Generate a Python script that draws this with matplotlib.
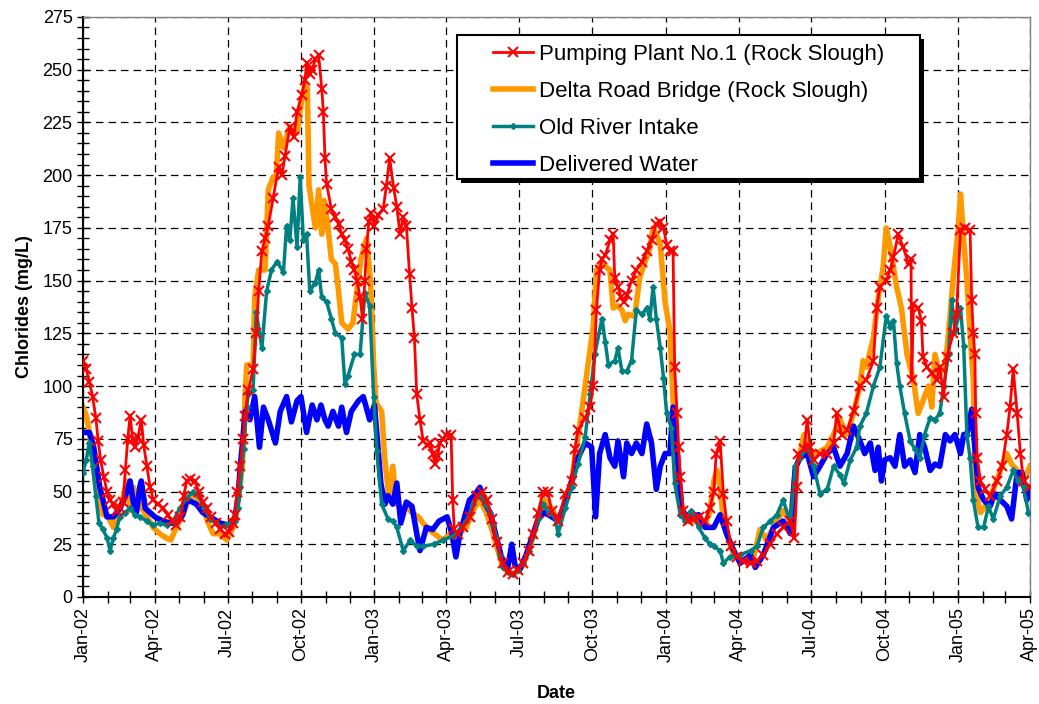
import numpy as np
import matplotlib
matplotlib.use("Agg")
import matplotlib.pyplot as plt
import matplotlib.dates as mdates
from matplotlib.patches import Rectangle

plt.rcParams['font.family'] = ['Liberation Sans', 'DejaVu Sans']

START = np.datetime64('2002-01-01')

# days since 1 Jan 2002 / chloride (mg/L)
pp1_day = [0, 4, 8, 12, 16, 19, 22, 26, 30, 34, 38, 42, 46, 50, 53, 56, 59, 62, 65, 69, 73, 76, 80, 84, 88, 94,
           100, 106, 112, 117, 122, 126, 130, 134, 140, 145, 150, 155, 160, 166, 172, 178, 183, 188, 190, 193, 197,
           200, 203, 207, 213, 217, 220, 224, 228, 232, 238, 245, 249, 253, 259, 264, 268, 274, 278, 280, 284, 287,
           291, 295, 299, 301, 303, 305, 311, 316, 320, 324, 328, 332, 336, 340, 343, 347, 350, 353, 355, 358, 361,
           365, 370, 376, 380, 384, 389, 393, 397, 401, 405, 409, 412, 415, 418, 422, 426, 431, 435, 438, 441, 444,
           447, 451, 455, 461, 463, 465, 470, 476, 485, 493, 500, 506, 512, 518, 526, 532, 539, 545, 551, 558, 564,
           570, 576, 582, 587, 595, 604, 612, 616, 620, 629, 635, 639, 643, 647, 650, 654, 660, 664, 666, 670, 674,
           677, 681, 687, 693, 700, 706, 712, 718, 723, 727, 731, 735, 739, 741, 744, 746, 748, 752, 758, 765, 771,
           779, 785, 790, 793, 798, 802, 806, 812, 819, 827, 836, 844, 852, 861, 869, 877, 886, 891, 894, 896, 903,
           907, 911, 915, 923, 932, 940, 944, 950, 957, 965, 973, 981, 990, 994, 998, 1006, 1011, 1015, 1021, 1027,
           1034, 1037, 1038, 1040, 1046, 1050, 1052, 1057, 1063, 1069, 1073, 1078, 1082, 1090, 1094, 1099, 1105,
           1111, 1113, 1115, 1117, 1118, 1120, 1124, 1130, 1136, 1145, 1151, 1157, 1161, 1165, 1170, 1174, 1178, 1186]
pp1_val = [112, 108, 102, 95, 85, 74, 65, 57, 50, 46, 44, 41, 42, 45, 60, 75, 86, 75, 71, 76, 84, 72, 62, 52, 46, 44,
           42, 39, 36, 34, 38, 48, 55, 56, 55, 50, 45, 42, 38, 35, 32, 30, 31, 35, 39, 50, 62,
           75, 86, 98, 108, 125, 145, 164, 170, 176, 189, 204, 200, 209, 223, 218, 230, 238, 245, 253, 248, 250,
           255, 257, 241, 230, 208, 196, 184, 180, 177, 172, 169, 165, 159, 155, 150, 142, 132, 150, 165, 178, 182,
           176, 181, 184, 195, 208, 194, 185, 172, 180, 176, 153, 137, 123, 96, 84, 74, 72, 73, 68, 63, 67,
           73, 75, 77, 77, 46, 32, 30, 33, 38, 48, 50, 46, 37, 26, 16, 12, 11, 13, 16, 22, 30,
           40, 50, 50, 41, 36, 49, 55, 70, 79, 85, 90, 100, 136, 155, 160, 162, 169, 172, 151, 147, 142,
           140, 143, 150, 155, 159, 164, 169, 177, 178, 175, 167, 164, 164, 109, 87, 71, 57, 41, 36, 37, 38,
           36, 42, 50, 68, 74, 49, 36, 24, 19, 17, 16, 17, 20, 25, 30, 33, 36, 28, 52, 68, 70,
           84, 71, 65, 68, 68, 73, 87, 77, 79, 88, 100, 103, 112, 137, 147, 150, 155, 161, 172, 166,
           158, 160, 103, 139, 137, 131, 114, 109, 106, 103, 109, 95, 114, 125, 134, 174, 175,
           174, 141, 125, 115, 87, 66, 55, 51, 48, 55, 62, 77, 90, 108, 87, 68, 55, 52]

drb_day = [0, 4, 8, 13, 17, 21, 25, 30, 34, 38, 44, 50, 55, 59, 63, 67, 71, 80, 88, 96, 104, 110, 117, 125, 131, 138,
           145, 152, 158, 163, 171, 180, 188, 190, 196, 200, 203, 205, 213, 215, 220, 228, 232, 238, 242, 245, 251,
           259, 268, 274, 278, 281, 283, 287, 291, 295, 299, 302, 306, 311, 316, 320, 324, 332, 338, 343, 348, 355,
           360, 364, 367, 374, 378, 383, 388, 392, 397, 405, 412, 420, 426, 433, 440, 450, 462, 470, 480, 490, 497,
           505, 512, 518, 526, 535, 545, 551, 560, 570, 578, 587, 595, 604, 612, 620, 626, 631, 639, 643, 650, 660,
           664, 670, 675, 679, 683, 691, 697, 703, 709, 714, 718, 723, 729, 735, 739, 744, 750, 758, 771, 779, 785,
           790, 794, 798, 802, 806, 815, 827, 840, 848, 856, 869, 877, 886, 892, 898, 903, 911, 919, 932, 940, 948,
           957, 965, 973, 977, 981, 990, 996, 1002, 1006, 1011, 1019, 1025, 1032, 1040, 1046, 1052, 1059, 1063,
           1067, 1073, 1080, 1086, 1090, 1096, 1099, 1103, 1107, 1111, 1115, 1117, 1120, 1124, 1132, 1140, 1149,
           1157, 1163, 1170, 1178, 1186]
drb_val = [90, 86, 78, 62, 50, 44, 39, 39, 36, 33, 40, 47, 55, 41, 52, 48, 44, 38, 33, 30, 28, 27, 33, 39, 45, 49,
           46, 40, 34, 30, 30, 27, 33, 35, 50, 65, 95, 110, 110, 142, 155, 155, 193, 199, 199, 220, 213,
           223, 220, 236, 243, 241, 195, 185, 175, 193, 172, 188, 178, 160, 158, 145, 130, 127, 130, 145, 160, 170,
           150, 110, 92, 88, 65, 48, 62, 45, 42, 43, 40, 38, 35, 32, 30, 27, 30, 30, 33, 42, 46,
           40, 32, 24, 14, 11, 12, 15, 24, 37, 46, 42, 36, 45, 55, 76, 92, 106, 128, 155, 158, 155,
           137, 138, 136, 131, 134, 133, 151, 158, 164, 175, 172, 167, 140, 126, 93, 65, 39, 36, 36, 35, 40,
           55, 60, 52, 36, 30, 20, 17, 19, 32, 27, 36, 41, 36, 60, 68, 77, 68, 68, 71, 77, 84,
           77, 87, 100, 112, 109, 123, 142, 156, 175, 166, 147, 137, 115, 103, 87, 93, 100, 90,
           115, 106, 109, 134, 152, 174, 191, 169, 150, 125, 103, 65, 46, 40, 44, 51, 60,
           68, 63, 60, 55, 62]

ori_day = [0, 4, 8, 12, 16, 20, 25, 30, 34, 38, 42, 46, 52, 59, 65, 71, 80, 88, 96, 105, 113, 121, 130, 138, 145,
           152, 159, 166, 172, 178, 184, 190, 194, 197, 201, 205, 207, 213, 217, 224, 230, 236, 243, 251, 255, 259,
           263, 268, 272, 276, 280, 284, 291, 295, 299, 305, 311, 316, 324, 328, 332, 340, 347, 353, 359, 364, 368,
           374, 382, 388, 393, 401, 410, 418, 426, 439, 451, 464, 472, 480, 489, 497, 504, 510, 514, 518, 522, 526,
           532, 539, 545, 551, 558, 564, 570, 576, 583, 591, 595, 604, 612, 620, 629, 635, 641, 650, 654, 658, 666,
           670, 675, 681, 687, 693, 700, 706, 710, 714, 718, 723, 727, 731, 737, 741, 748, 754, 762, 771, 779, 785,
           790, 798, 802, 810, 823, 836, 844, 852, 861, 869, 877, 886, 892, 898, 907, 915, 923, 932, 940, 948, 953,
           961, 969, 973, 981, 990, 998, 1006, 1011, 1015, 1019, 1023, 1029, 1036, 1042, 1048, 1054, 1061, 1067,
           1073, 1078, 1084, 1088, 1092, 1099, 1103, 1107, 1111, 1115, 1121, 1128, 1134, 1140, 1149, 1157, 1165,
           1171, 1178, 1184]
ori_val = [59, 65, 73, 62, 48, 35, 32, 28, 22, 28, 32, 38, 40, 42, 39, 38, 36, 34, 35, 34, 36, 42, 47, 50, 48,
           42, 37, 35, 33, 34, 35, 36, 42, 52, 70, 90, 96, 98, 135, 118, 145, 155, 159, 154, 176, 169,
           189, 166, 199, 169, 172, 145, 149, 155, 142, 140, 132, 125, 123, 101, 105, 115, 115, 144, 138, 95, 69,
           44, 37, 36, 33, 22, 27, 24, 24, 25, 27, 29, 32, 36, 44, 49, 44, 40, 34, 28, 20, 14,
           12, 11, 13, 16, 22, 29, 37, 44, 40, 38, 30, 42, 52, 63, 76, 96, 115, 132, 121, 110, 112,
           118, 107, 107, 112, 136, 134, 137, 132, 147, 132, 118, 104, 87, 80, 54, 39, 36, 41, 33, 28, 25,
           24, 22, 16, 19, 20, 22, 24, 33, 36, 39, 46, 35, 62, 66, 71, 62, 49, 51, 62, 58, 54,
           65, 71, 81, 87, 100, 109, 133, 128, 131, 111, 100, 87, 74, 70, 66, 77, 85, 84,
           87, 100, 115, 141, 126, 137, 119, 77, 66, 46, 33, 33, 43, 37, 48, 52, 60,
           55, 52, 40]

del_day = [0, 8, 13, 17, 21, 25, 30, 38, 46, 50, 55, 59, 63, 67, 71, 73, 78, 84, 90, 100, 110, 117, 125, 130, 137,
           142, 150, 159, 172, 184, 190, 194, 197, 200, 203, 209, 215, 221, 226, 232, 241, 247, 255, 261, 268, 273,
           280, 287, 293, 298, 303, 307, 313, 320, 324, 330, 336, 345, 351, 359, 365, 369, 373, 378, 382, 388, 393,
           398, 405, 412, 418, 422, 430, 438, 446, 456, 462, 467, 472, 478, 484, 490, 497, 504, 510, 518, 524, 532,
           537, 541, 547, 555, 562, 570, 578, 587, 595, 604, 612, 620, 629, 637, 642, 647, 654, 660, 666, 670, 677,
           681, 687, 693, 700, 706, 712, 718, 723, 729, 735, 739, 744, 750, 758, 771, 779, 790, 798, 806, 815, 823,
           836, 842, 852, 865, 877, 886, 892, 898, 907, 915, 923, 932, 940, 948, 957, 965, 973, 979, 986, 992, 996,
           1000, 1004, 1011, 1017, 1023, 1029, 1036, 1042, 1048, 1054, 1061, 1067, 1073, 1080, 1086, 1092, 1099,
           1103, 1107, 1113, 1117, 1121, 1128, 1136, 1142, 1149, 1157, 1163, 1170, 1176, 1182, 1186]
del_val = [78, 78, 72, 62, 52, 46, 38, 38, 42, 45, 50, 55, 45, 40, 52, 55, 42, 40, 38, 36, 35, 35, 39, 46, 45,
           44, 40, 38, 35, 34, 37, 47, 62, 74, 88, 84, 95, 71, 90, 84, 73, 88, 95, 83, 93, 95,
           78, 91, 84, 91, 84, 81, 88, 81, 90, 78, 88, 93, 95, 84, 91, 73, 54, 44, 48, 44, 54,
           35, 45, 43, 30, 22, 33, 32, 36, 38, 30, 19, 30, 38, 46, 48, 52, 44, 40, 28, 19, 14,
           25, 15, 13, 20, 28, 37, 40, 38, 36, 45, 55, 66, 73, 71, 38, 68, 77, 66, 62, 74, 57,
           73, 68, 73, 68, 82, 73, 51, 62, 68, 68, 90, 69, 41, 38, 39, 33, 33, 39, 30, 22, 16,
           20, 14, 20, 33, 36, 30, 61, 66, 68, 57, 62, 68, 71, 62, 68, 81, 74, 68, 73, 60, 71,
           55, 65, 66, 62, 77, 62, 65, 59, 77, 71, 60, 63, 62, 77, 74, 77, 68,
           77, 77, 89, 71, 52, 46, 43, 49, 46, 43, 37, 59, 59, 46, 52]


def to_dates(days):
    return START + np.array(days).astype('timedelta64[D]')


fig = plt.figure(figsize=(10.39, 7.04), dpi=100)
ax = fig.add_axes([0.0799, 0.152, 0.9114, 0.824])

# drawing order: orange at the bottom, red crosses on top
l_drb, = ax.plot(to_dates(drb_day), drb_val, color='#FF9900', lw=4, zorder=2,
                 label='Delta Road Bridge (Rock Slough)')
l_del, = ax.plot(to_dates(del_day), del_val, color='#0000FF', lw=4, zorder=3,
                 label='Delivered Water')
l_ori, = ax.plot(to_dates(ori_day), ori_val, color='#008080', lw=2.5, marker='D', ms=3, zorder=4,
                 label='Old River Intake')
l_pp1, = ax.plot(to_dates(pp1_day), pp1_val, color='#FF0000', lw=2, marker='x', ms=7, mew=1.5, zorder=5,
                 label='Pumping Plant No.1 (Rock Slough)')

ax.set_xlim(np.datetime64('2002-01-01'), np.datetime64('2005-04-01'))
ax.set_ylim(0, 275)
ax.set_yticks(np.arange(0, 276, 25))
ax.yaxis.set_minor_locator(matplotlib.ticker.MultipleLocator(5))
ax.xaxis.set_major_locator(mdates.MonthLocator(bymonth=[1, 4, 7, 10]))
ax.xaxis.set_minor_locator(mdates.MonthLocator())
ax.xaxis.set_major_formatter(mdates.DateFormatter('%b-%y'))
ax.tick_params(axis='both', which='both', direction='inout', length=8, width=1, labelsize=13)
ax.tick_params(axis='x', labelrotation=90)

ax.set_axisbelow(True)
ax.grid(True, which='major', color='black', linestyle=(0, (6, 4)), linewidth=0.9)

for s in ['left', 'bottom']:
    ax.spines[s].set_linewidth(1.5)
for s in ['top', 'right']:
    ax.spines[s].set_color('#808080')
    ax.spines[s].set_linewidth(1)

ax.set_ylabel('Chlorides (mg/L)', fontsize=13, fontweight='bold', labelpad=7)
ax.set_xlabel('Date', fontsize=13, fontweight='bold', labelpad=16)

# legend box with a drop shadow
bx0, by0, bw, bh = 0.395, 0.721, 0.489, 0.248
ax.add_patch(Rectangle((bx0 + 0.0045, by0 - 0.0075), bw, bh, transform=ax.transAxes,
                       facecolor='black', edgecolor='none', zorder=8))
ax.add_patch(Rectangle((bx0, by0), bw, bh, transform=ax.transAxes,
                       facecolor='white', edgecolor='black', lw=1.5, zorder=9))
leg = ax.legend(handles=[l_pp1, l_drb, l_ori, l_del], loc='center',
                bbox_to_anchor=(bx0 + bw / 2, by0 + bh / 2 - 0.005), frameon=False,
                fontsize=16, handlelength=1.8, handletextpad=0.25, labelspacing=0.72)
leg.set_zorder(10)

fig.savefig('out.png', dpi=100)
